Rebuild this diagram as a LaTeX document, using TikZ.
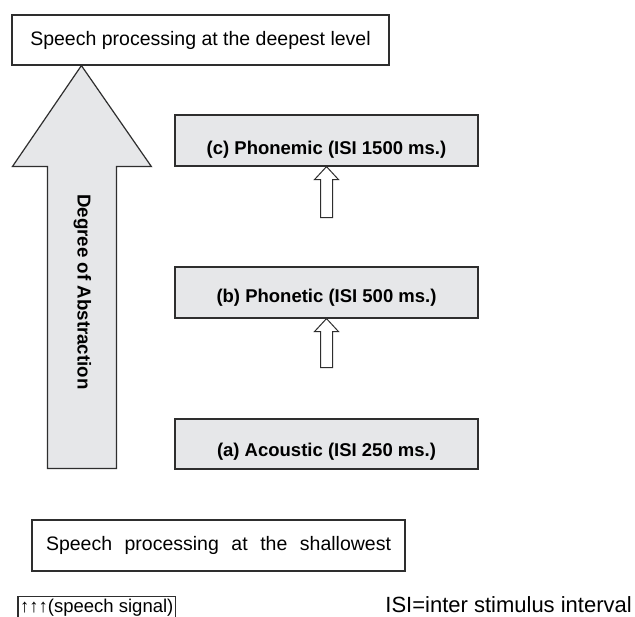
\documentclass[tikz,border=0pt]{standalone}
\usepackage{fontspec}
\setmainfont{Liberation Sans}
\usetikzlibrary{calc}
\definecolor{edge}{HTML}{2E2E2E}
\definecolor{boxfill}{HTML}{E6E7E9}
\begin{document}
\begin{tikzpicture}[x=1pt,y=-1pt,
 frame/.style={draw=edge,line width=1.2pt,line join=miter},
 plainbox/.style={frame,fill=white,inner sep=0pt,font=\fontsize{19.5}{23}\selectfont},
 graybox/.style={frame,fill=boxfill,inner sep=0pt,minimum width=303pt,minimum height=51pt},
 boxlabel/.style={font=\bfseries\fontsize{18.5}{22}\selectfont,inner sep=0pt},
 blockarrow/.style={frame,fill=white,line width=1pt}]
\useasboundingbox (0,0) rectangle (635,617);
\clip (0,0) rectangle (635,617);
\fill[white] (0,0) rectangle (635,617);

% top box
\node[plainbox,minimum width=377pt,minimum height=50pt] (deep) at (200.5,40) {Speech processing at the deepest level};

% big arrow
\coordinate (tip) at ($(deep.south west)+(70,0)$);
\draw[frame,fill=boxfill] (tip) -- ++(70,101) -- ++(-35,0) -- ++(0,302) -- ++(-69,0) -- ++(0,-302) -- ++(-35,0) -- cycle;
\node[font=\bfseries\fontsize{18.7}{22}\selectfont,rotate=-90,inner sep=0pt] (deg) at (82.5,292) {Degree of Abstraction};

% gray boxes
\node[graybox] (c) at (326.5,140.5) {};
\node[boxlabel] (clab) at ($(c.center)+(0,9)$) {(c) Phonemic (ISI 1500 ms.)};
\node[graybox] (b) at (326.5,292.5) {};
\node[boxlabel] (blab) at ($(b.center)+(0,5.5)$) {(b) Phonetic (ISI 500 ms.)};
\node[graybox,minimum height=50pt] (a) at (326.5,444) {};
\node[boxlabel] (alab) at ($(a.center)+(0,7.5)$) {(a) Acoustic (ISI 250 ms.)};

% small block arrows
\draw[blockarrow] (c.south) -- ++(12,13) -- ++(-6,0) -- ++(0,38) -- ++(-12,0) -- ++(0,-38) -- ++(-6,0) -- cycle;
\draw[blockarrow] (b.south) -- ++(12,13) -- ++(-6,0) -- ++(0,36) -- ++(-12,0) -- ++(0,-36) -- ++(-6,0) -- cycle;

% shallowest box
\node[plainbox,minimum width=373pt,minimum height=51pt] (shallow) at (218.5,545.5) {\makebox[345pt][s]{Speech processing at the shallowest}};

% speech signal
\node[font=\fontsize{18.5}{22}\selectfont,anchor=base west,inner sep=0pt] (sig) at (20,612.5) {↑↑↑(speech signal)};
\draw[frame,line width=1.1pt] ($(sig.west)+(-2,25)$) |- ($(sig.north east)+(2,-2)$) -- ++(0,30);

% ISI legend
\node[font=\fontsize{22}{26}\selectfont,anchor=east,inner sep=0pt] (isi) at (632,605) {ISI=inter stimulus interval};
\end{tikzpicture}
\end{document}
